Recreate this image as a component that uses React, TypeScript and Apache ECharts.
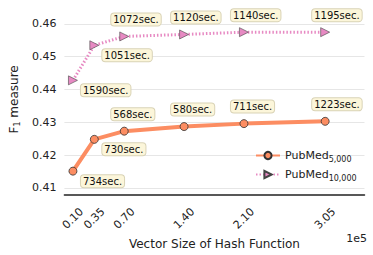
import React, { useEffect, useRef } from "react";
import * as echarts from "echarts";

const vectorSizes = [0.1, 0.35, 0.7, 1.4, 2.1, 3.05];
const tickLabels = ["0.10", "0.35", "0.70", "1.40", "2.10", "3.05"];
const pubmed5000 = [0.4151, 0.4248, 0.4273, 0.4287, 0.4296, 0.4303];
const pubmed10000 = [0.4428, 0.4535, 0.4562, 0.4568, 0.4575, 0.4575];
const times5000 = ["734sec.", "730sec.", "568sec.", "580sec.", "711sec.", "1223sec."];
const times10000 = ["1590sec.", "1051sec.", "1072sec.", "1120sec.", "1140sec.", "1195sec."];
const yTicks = [0.41, 0.42, 0.43, 0.44, 0.45, 0.46];

const FONT = "DejaVu Sans";

function makeData(xs: number[], ys: number[], times: string[]) {
  return xs.map((x, i) => {
    const below = i < 2;
    return {
      value: [x, ys[i]],
      label: {
        show: true,
        formatter: times[i],
        position: "inside",
        align: "left",
        verticalAlign: "middle",
        offset: below ? [8, 10] : [-13, -17],
        fontFamily: FONT,
        fontSize: 10,
        color: "#111",
        backgroundColor: "#fcf6da",
        borderColor: "#d9d3b6",
        borderWidth: 1,
        borderRadius: 3,
        padding: [1, 2, 1, 2],
        lineHeight: 10,
      },
    };
  });
}

export default function App() {
  const ref = useRef<HTMLDivElement>(null);
  useEffect(() => {
    if (!ref.current) return;
    const chart = echarts.init(ref.current, null, { renderer: "svg" });
    chart.setOption({
      animation: false,
      textStyle: { fontFamily: FONT },
      grid: { left: 61.5, right: 8.5, top: 4.3, bottom: 59.3 },
      xAxis: {
        type: "value",
        min: 0,
        max: 3.51,
        name: "Vector Size of Hash Function",
        nameLocation: "middle",
        nameGap: 36,
        nameTextStyle: { fontFamily: FONT, fontSize: 12, color: "#222" },
        axisLine: { show: true, lineStyle: { color: "#222", width: 1.5 } },
        axisTick: { show: false },
        splitLine: { show: false },
        axisLabel: {
          customValues: vectorSizes,
          formatter: (v: number) => {
            const i = vectorSizes.findIndex((s) => Math.abs(s - v) < 1e-6);
            return i >= 0 ? tickLabels[i] : "";
          },
          rotate: 45,
          align: "center",
          verticalAlign: "middle",
          margin: 24,
          fontFamily: FONT,
          fontSize: 11,
          color: "#222",
        },
      },
      yAxis: {
        type: "value",
        min: 0.408,
        max: 0.466,
        name: "{a|F}{b|1}{a| measure}",
        nameLocation: "middle",
        nameGap: 42,
        nameRotate: 90,
        nameTextStyle: {
          fontFamily: FONT,
          color: "#222",
          rich: {
            a: { fontSize: 12, fontFamily: FONT, color: "#222" },
            b: { fontSize: 8, fontFamily: FONT, color: "#222", padding: [6, 0, 0, 0] },
          },
        },
        axisLine: { show: false },
        axisTick: { show: false },
        splitLine: {
          show: true,
          showMinLine: false,
          showMaxLine: false,
          lineStyle: { color: "#e6e6e6", width: 1 },
        },
        axisLabel: {
          customValues: yTicks,
          formatter: (v: number) => v.toFixed(2),
          margin: 8,
          fontFamily: FONT,
          fontSize: 11,
          color: "#222",
        },
      },
      legend: {
        left: 250,
        top: 145,
        orient: "vertical",
        itemGap: 6,
        itemWidth: 24,
        itemHeight: 9,
        data: ["PubMed5000", "PubMed10000"],
        formatter: (name: string) =>
          name === "PubMed5000" ? "{a|PubMed}{b|5,000}" : "{a|PubMed}{b|10,000}",
        textStyle: {
          fontFamily: FONT,
          rich: {
            a: { fontSize: 11, fontFamily: FONT, color: "#222" },
            b: { fontSize: 8, fontFamily: FONT, color: "#222", padding: [7, 0, 0, 0] },
          },
        },
      },
      series: [
        {
          name: "PubMed5000",
          type: "line",
          data: makeData(vectorSizes, pubmed5000, times5000),
          symbol: "circle",
          symbolSize: 8,
          lineStyle: { color: "#fc8d62", width: 4 },
          itemStyle: { color: "#fc8d62", borderColor: "#333", borderWidth: 0.8 },
          z: 3,
        },
        {
          name: "PubMed10000",
          type: "line",
          data: makeData(vectorSizes, pubmed10000, times10000),
          symbol: "triangle",
          symbolRotate: -90,
          symbolSize: 9,
          lineStyle: { color: "#e78ac3", width: 3, type: [1.5, 2] },
          itemStyle: { color: "#e78ac3", borderColor: "#444", borderWidth: 0.6 },
          z: 3,
        },
      ],
      graphic: [
        {
          type: "text",
          right: 6,
          top: 233,
          style: { text: "1e5", fontFamily: FONT, fontSize: 11, fill: "#222" },
        },
      ],
    });
    return () => chart.dispose();
  }, []);
  return <div ref={ref} style={{ width: 373, height: 255, position: "absolute", left: 0, top: 0 }} />;
}
